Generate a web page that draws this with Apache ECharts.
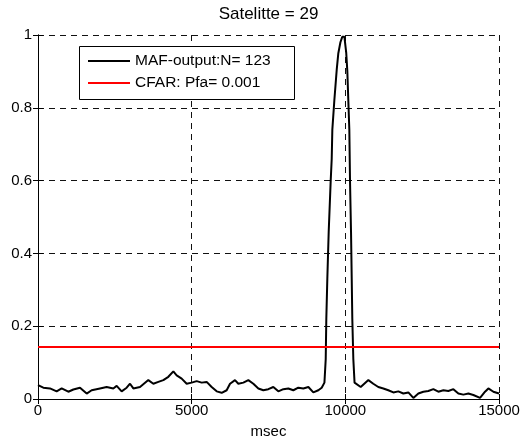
<!DOCTYPE html>
<html>
<head>
<meta charset="utf-8">
<script src="https://cdn.jsdelivr.net/npm/echarts@6/dist/echarts.min.js"></script>
<style>html,body{margin:0;padding:0;background:#fff;}#c{width:524px;height:444px;}</style>
</head>
<body>
<div id="c"></div>
<script>
var titleText = 'Satelitte = 29';
var xAxisName = 'msec';
var seriesNames = ['MAF-output:N= 123', 'CFAR: Pfa= 0.001'];
var xTicks = [0, 5000, 10000, 15000];
var yTicks = [0, 0.2, 0.4, 0.6, 0.8, 1];
var msec = [0,173,390,607,770,987,1150,1367,1584,1746,2017,2234,2451,2560,2722,2885,2994,3102,3319,3590,3753,3916,4078,4241,4404,4512,4675,4838,5000,5163,5326,5488,5651,5814,5977,6139,6248,6410,6519,6682,6844,7007,7170,7332,7495,7657,7820,7983,8146,8308,8471,8634,8797,8959,9122,9231,9320,9362,9381,9414,9459,9524,9557,9577,9642,9720,9772,9840,9900,9935,9970,10030,10065,10097,10130,10152,10185,10208,10227,10260,10300,10340,10500,10750,10910,11073,11236,11399,11562,11725,11888,12050,12213,12376,12539,12701,12864,13027,13190,13352,13515,13678,13840,14003,14166,14383,14546,14654,14817,15000];
var mafOutput = [0.038,0.031,0.029,0.021,0.029,0.020,0.026,0.031,0.015,0.024,0.029,0.033,0.029,0.036,0.021,0.031,0.042,0.029,0.033,0.052,0.042,0.047,0.052,0.061,0.076,0.065,0.056,0.042,0.045,0.049,0.045,0.047,0.033,0.021,0.017,0.024,0.042,0.052,0.042,0.045,0.052,0.042,0.029,0.024,0.027,0.033,0.021,0.027,0.029,0.024,0.031,0.029,0.033,0.018,0.024,0.031,0.045,0.11,0.22,0.33,0.46,0.60,0.66,0.74,0.82,0.905,0.95,0.98,0.995,1.0,0.995,0.95,0.90,0.82,0.74,0.60,0.46,0.33,0.22,0.11,0.045,0.040,0.033,0.052,0.042,0.033,0.029,0.024,0.018,0.021,0.015,0.018,0.003,0.015,0.020,0.022,0.027,0.020,0.024,0.022,0.027,0.015,0.012,0.015,0.011,0.003,0.020,0.029,0.020,0.015];
var cfarThreshold = [0.143, 0.143];
var cfarX = [0, 15000];

var FONT = 'Liberation Sans';
var chart = echarts.init(document.getElementById('c'), null, {renderer: 'canvas'});
var gridCfg = {left: 38, right: 25, top: 35, bottom: 44};
var dash = {color: '#111', width: 1, type: [6, 5]};
function yFmt(v){ return (v === 0 || v === 1) ? String(v) : v.toFixed(1); }
chart.setOption({
  animation: false,
  backgroundColor: '#fff',
  grid: gridCfg,
  legend: {
    orient: 'vertical', left: 79, top: 49,
    padding: [4, 8, 4, 9], itemGap: 6,
    itemWidth: 42, itemHeight: 2, icon: 'rect',
    textStyle: {fontFamily: FONT, fontSize: 15.5, color: '#000'},
    data: seriesNames, z: 5
  },
  graphic: [
    {type: 'rect', z: 4, shape: {x: 79.5, y: 46.5, width: 215, height: 53}, style: {fill: '#fff', stroke: '#000', lineWidth: 1}},
    {type: 'text', x: 268.5, y: 14, style: {text: titleText, fontFamily: FONT, fontSize: 17, fill: '#000', align: 'center', verticalAlign: 'middle'}}
  ],
  xAxis: [{
    type: 'value', min: 0, max: 15000, interval: 5000,
    name: xAxisName, nameLocation: 'middle', nameGap: 25,
    nameTextStyle: {fontFamily: FONT, fontSize: 15, color: '#000'},
    axisLine: {show: true, lineStyle: {color: '#000', width: 1}},
    axisTick: {show: true, inside: true, length: 5, lineStyle: {color: '#000'}},
    axisLabel: {fontFamily: FONT, fontSize: 15, color: '#000', margin: 4, formatter: function(v){return String(v);}},
    splitLine: {show: true, lineStyle: dash}
  }, {
    type: 'value', min: 0, max: 15000, interval: 5000, position: 'top',
    axisLine: {show: true, lineStyle: {color: '#000', width: 1}},
    axisTick: {show: true, inside: true, length: 5, lineStyle: {color: '#000'}},
    axisLabel: {show: false}, splitLine: {show: false}
  }],
  yAxis: [{
    type: 'value', min: 0, max: 1, interval: 0.2,
    axisLine: {show: true, lineStyle: {color: '#000', width: 1}},
    axisTick: {show: true, inside: true, length: 5, lineStyle: {color: '#000'}},
    axisLabel: {fontFamily: FONT, fontSize: 15, color: '#000', margin: 6, formatter: yFmt},
    splitLine: {show: true, lineStyle: dash}
  }, {
    type: 'value', min: 0, max: 1, interval: 0.2, position: 'right',
    axisLine: {show: true, lineStyle: {color: '#000', width: 1}},
    axisTick: {show: true, inside: true, length: 5, lineStyle: {color: '#000'}},
    axisLabel: {show: false}, splitLine: {show: false}
  }],
  series: [{
    name: seriesNames[0], type: 'line', showSymbol: false, symbol: 'none',
    lineStyle: {color: '#000', width: 2}, itemStyle: {color: '#000'},
    data: msec.map(function(t, i){ return [t, mafOutput[i]]; }), z: 3
  }, {
    name: seriesNames[1], type: 'line', showSymbol: false, symbol: 'none',
    lineStyle: {color: '#ff0000', width: 2}, itemStyle: {color: '#ff0000'},
    data: cfarX.map(function(t, i){ return [t, cfarThreshold[i]]; }), z: 3
  }]
});
</script>
</body>
</html>
